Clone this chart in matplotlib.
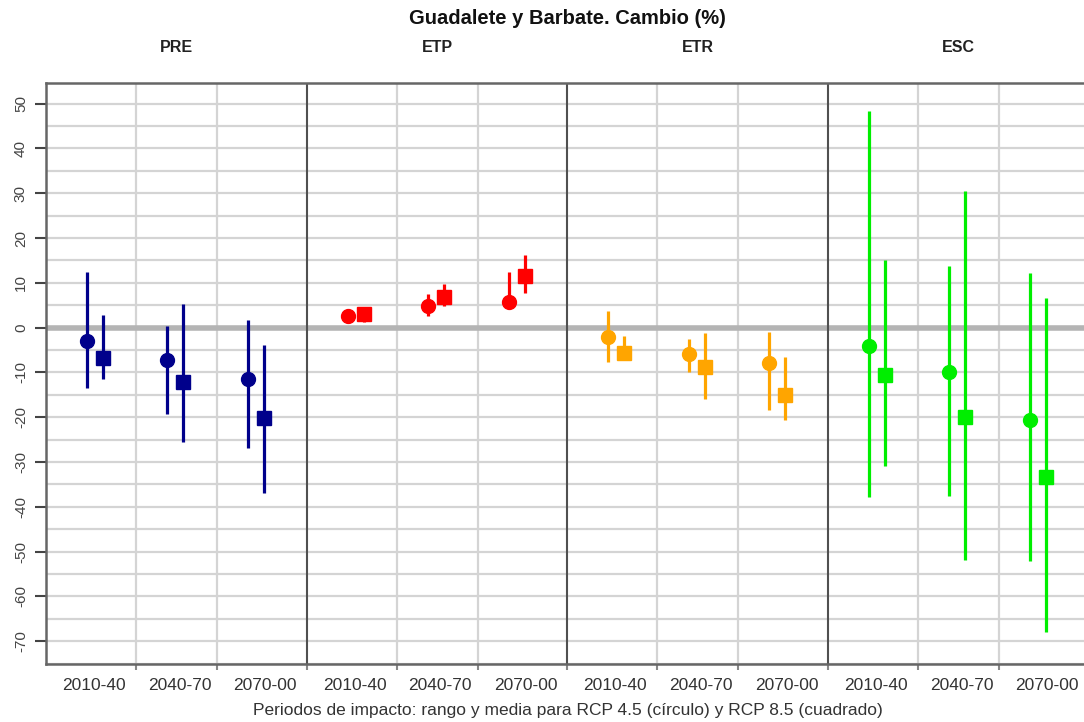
import matplotlib
matplotlib.use('Agg')
from matplotlib import pyplot as plt
import numpy as np

plt.rcParams['font.family'] = ['Liberation Sans', 'DejaVu Sans']

variables = ['PRE', 'ETP', 'ETR', 'ESC']
periods = ['2010-40', '2040-70', '2070-00']
colors = ['#00008B', '#FF0000', '#FFA500', '#00EE00']

# RCP 4.5 (circle): mean, min, max per period
pre_45_mean = [-3.1, -7.2, -11.4]
pre_45_min = [-13.4, -19.3, -26.9]
pre_45_max = [12.4, 0.4, 1.6]
etp_45_mean = [2.5, 4.9, 5.8]
etp_45_min = [2.0, 2.5, 4.3]
etp_45_max = [3.0, 7.5, 12.4]
etr_45_mean = [-2.2, -5.9, -7.8]
etr_45_min = [-7.6, -9.8, -18.4]
etr_45_max = [3.6, -2.5, -0.9]
esc_45_mean = [-4.0, -9.8, -20.6]
esc_45_min = [-37.9, -37.5, -52.2]
esc_45_max = [48.4, 13.8, 12.1]

# RCP 8.5 (square)
pre_85_mean = [-6.7, -12.2, -20.2]
pre_85_min = [-11.5, -25.5, -36.9]
pre_85_max = [2.9, 5.2, -3.9]
etp_85_mean = [3.0, 6.9, 11.5]
etp_85_min = [1.3, 4.8, 7.7]
etp_85_max = [3.5, 9.7, 16.1]
etr_85_mean = [-5.6, -8.8, -15.0]
etr_85_min = [-7.2, -15.9, -20.6]
etr_85_max = [-1.8, -1.1, -6.6]
esc_85_mean = [-10.5, -19.9, -33.3]
esc_85_min = [-30.9, -51.9, -67.9]
esc_85_max = [15.1, 30.6, 6.6]

rcp45 = [(pre_45_mean, pre_45_min, pre_45_max), (etp_45_mean, etp_45_min, etp_45_max),
         (etr_45_mean, etr_45_min, etr_45_max), (esc_45_mean, esc_45_min, esc_45_max)]
rcp85 = [(pre_85_mean, pre_85_min, pre_85_max), (etp_85_mean, etp_85_min, etp_85_max),
         (etr_85_mean, etr_85_min, etr_85_max), (esc_85_mean, esc_85_min, esc_85_max)]

fig = plt.figure(figsize=(10.84, 7.22), dpi=100)
ax = fig.add_axes([0.0424, 0.0803, 0.9622, 0.8047])
ax.set_xlim(0, 12)
ax.set_ylim(-75.1, 54.6)

grid_c = '#d4d4d4'
for y in np.arange(-75, 55, 5):
    ax.axhline(y, color=grid_c, lw=1.6, zorder=1)
ax.axhline(0, color='#b4b4b4', lw=4, zorder=1.5)
for g in range(4):
    for off in (1.034, 1.966):
        ax.axvline(g * 3 + off, color=grid_c, lw=1.6, zorder=1)
for g in (1, 2, 3):
    ax.axvline(g * 3, color='#505050', lw=1.5, zorder=1.6)

pair_pos = np.array([0.563, 1.487, 2.414])
for g in range(4):
    c = colors[g]
    for data, dx, mk, ms in ((rcp45[g], -0.092, 'o', 10), (rcp85[g], 0.092, 's', 9.5)):
        mean, lo, hi = data
        x = g * 3 + pair_pos + dx
        ax.vlines(x, lo, hi, color=c, lw=2.3, zorder=3)
        ax.plot(x, mean, ls='none', marker=mk, ms=ms, color=c, zorder=4)
    ax.text(g * 3 + 1.5, 1.062, variables[g], transform=ax.get_xaxis_transform(),
            ha='center', va='center', fontsize=11.5, fontweight='bold', color='#222222')

ax.set_xticks([g * 3 + 0.55 + p * 0.985 for g in range(4) for p in range(3)])
ax.set_xticklabels(periods * 4, fontsize=12.5, color='#333333')
ax.tick_params(axis='x', length=0, pad=10)
ax.set_xticks([g * 3 + off for g in range(4) for off in (1.034, 1.966)] + [3, 6, 9], minor=True)
ax.tick_params(axis='x', which='minor', length=4, width=1.5, color='#888888')

yt = np.arange(-70, 51, 10)
ax.set_yticks(yt)
ax.set_yticklabels([str(v) for v in yt], rotation=90, va='center', fontsize=11, color='#444444')
ax.tick_params(axis='y', length=8, width=1.5, color='#444444', pad=5)

for s in ('left', 'bottom', 'top'):
    ax.spines[s].set_color('#666666')
    ax.spines[s].set_linewidth(1.8)
ax.spines['right'].set_visible(False)

ax.set_xlabel('Periodos de impacto: rango y media para RCP 4.5 (círculo) y RCP 8.5 (cuadrado)',
              fontsize=12.5, color='#333333', labelpad=7)
fig.text(0.5235, 0.975, 'Guadalete y Barbate. Cambio (%)', ha='center', va='center',
         fontsize=14.5, fontweight='bold', color='#111111')

fig.savefig('out.png', dpi=100)
